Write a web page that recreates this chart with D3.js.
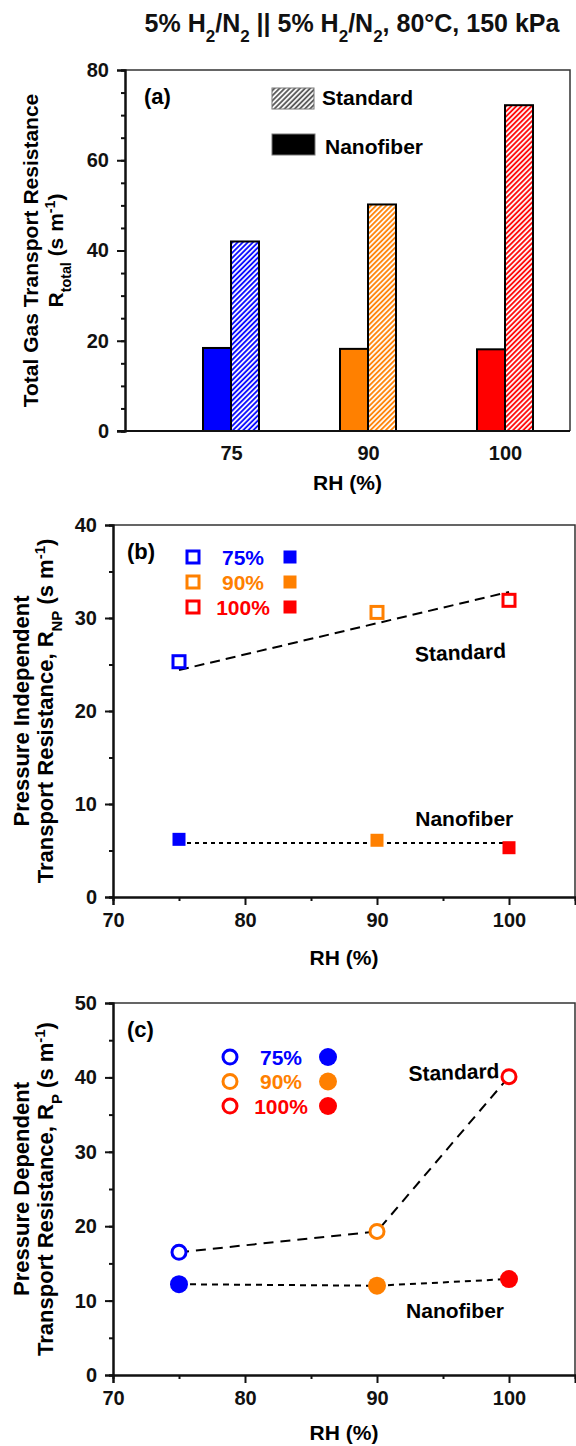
<!DOCTYPE html>
<html>
<head>
<meta charset="utf-8">
<script src="https://cdn.jsdelivr.net/npm/d3@7"></script>
<style>
  body { margin: 0; background: #fff; }
  svg { display: block; }
  text { font-family: "Liberation Sans", Arial, sans-serif; font-weight: bold; }
</style>
</head>
<body>
<script>
// données
const rhCats = ["75", "90", "100"];
const rhValues = [75, 90, 100];
const rhColors = ["#0000ff", "#ff8000", "#ff0000"];
const rhLegend = ["75%", "90%", "100%"];

// (a) résistance totale
const totalNanofiber = [18.4, 18.2, 18.1];
const totalStandard = [42.0, 50.2, 72.2];

// (b) résistance indépendante de la pression
const npStandard = [25.3, 30.6, 31.9];
const npNanofiber = [6.2, 6.1, 5.3];
const npStandardFit = [24.4, 32.8];   // droite, aux extrémités 75 et 100
const npNanofiberFit = [5.8, 5.8];
const fitRH = [75, 100];

// (c) résistance dépendante de la pression
const pStandard = [16.5, 19.3, 40.1];
const pNanofiber = [12.2, 12.0, 12.9];

const W = 576, H = 1446;
const svg = d3.select("body").append("svg").attr("width", W).attr("height", H);
const defs = svg.append("defs");

// motif hachuré
function hatch(id, color) {
  const p = defs.append("pattern")
    .attr("id", id)
    .attr("patternUnits", "userSpaceOnUse")
    .attr("width", 3.6).attr("height", 3.6)
    .attr("patternTransform", "rotate(45)");
  p.append("rect").attr("width", 3.6).attr("height", 3.6).attr("fill", "#fff");
  p.append("line").attr("x1", 1).attr("x2", 1).attr("y1", 0).attr("y2", 3.6)
    .attr("stroke", color).attr("stroke-width", 1.8);
}
rhColors.forEach((c, i) => hatch("hatch" + i, c));
hatch("hatchLegend", "#555");

// texte avec indices / exposants
function rich(sel, parts, size) {
  parts.forEach(p => {
    const ts = sel.append("tspan").text(p.t);
    if (p.sub) ts.attr("font-size", size * 0.68).attr("baseline-shift", "sub");
    if (p.sup) ts.attr("font-size", size * 0.68).attr("baseline-shift", "super");
  });
}

function yTitle(lines, cy, size) {
  lines.forEach(l => {
    const t = svg.append("text")
      .attr("transform", `translate(${l.x},${cy}) rotate(-90)`)
      .attr("text-anchor", "middle")
      .attr("font-size", size);
    rich(t, l.parts, size);
  });
}

function styleAxis(g) {
  g.select(".domain").attr("stroke", "#111").attr("stroke-width", 2);
  g.selectAll(".tick line").attr("stroke", "#111").attr("stroke-width", 2);
  g.selectAll(".tick text").attr("fill", "#111").attr("font-size", 20)
    .attr("font-family", "Liberation Sans, Arial, sans-serif").attr("font-weight", "bold");
}

function frame(x0, x1, y0, y1) {
  svg.append("path")
    .attr("d", `M${x0},${y0}H${x1}V${y1}`)
    .attr("fill", "none").attr("stroke", "#333").attr("stroke-width", 1.5);
}

function yAxes(y, left, major, minor) {
  svg.append("g").attr("transform", `translate(${left},0)`)
    .call(d3.axisLeft(y).tickValues(minor).tickSize(4).tickFormat(""))
    .call(styleAxis);
  svg.append("g").attr("transform", `translate(${left},0)`)
    .call(d3.axisLeft(y).tickValues(major).tickSize(8).tickPadding(8))
    .call(styleAxis);
}

// titre
const title = svg.append("text").attr("x", 352).attr("y", 32)
  .attr("text-anchor", "middle").attr("font-size", 25).attr("fill", "#111");
rich(title, [
  { t: "5% H" }, { t: "2", sub: true }, { t: "/N" }, { t: "2", sub: true },
  { t: " || 5% H" }, { t: "2", sub: true }, { t: "/N" }, { t: "2", sub: true },
  { t: ", 80°C, 150 kPa" }
], 25);

// ---------- (a) ----------
{
  const left = 125, right = 570, top = 70, bottom = 431;
  const y = d3.scaleLinear().domain([0, 80]).range([bottom, top]);
  const x = d3.scalePoint().domain(rhCats).range([left + 106, right - 65]);
  const bw = 28;

  frame(left, right, top, bottom);

  const groups = svg.append("g").selectAll("g").data(rhCats).join("g");
  groups.append("rect")
    .attr("x", d => x(d) - bw).attr("width", bw)
    .attr("y", (d, i) => y(totalNanofiber[i])).attr("height", (d, i) => y(0) - y(totalNanofiber[i]))
    .attr("fill", (d, i) => rhColors[i]).attr("stroke", "#000").attr("stroke-width", 2);
  groups.append("rect")
    .attr("x", d => x(d)).attr("width", bw)
    .attr("y", (d, i) => y(totalStandard[i])).attr("height", (d, i) => y(0) - y(totalStandard[i]))
    .attr("fill", (d, i) => `url(#hatch${i})`).attr("stroke", "#000").attr("stroke-width", 2);

  yAxes(y, left, d3.range(0, 81, 20), d3.range(0, 81, 5));
  svg.append("g").attr("transform", `translate(0,${bottom})`)
    .call(d3.axisBottom(x).tickSize(0).tickPadding(15))
    .call(styleAxis)
    .call(g => g.select(".domain").attr("d", `M${left - 8},0H${right}`));

  svg.append("text").attr("x", 144).attr("y", 104).attr("font-size", 22).text("(a)");

  // légende
  svg.append("rect").attr("x", 272).attr("y", 88).attr("width", 42).attr("height", 21)
    .attr("fill", "url(#hatchLegend)").attr("stroke", "#777").attr("stroke-width", 1);
  svg.append("text").attr("x", 322).attr("y", 105).attr("font-size", 21).text("Standard");
  svg.append("rect").attr("x", 272).attr("y", 134).attr("width", 43).attr("height", 21)
    .attr("fill", "#000").attr("stroke", "#777").attr("stroke-width", 1);
  svg.append("text").attr("x", 325).attr("y", 154).attr("font-size", 21).text("Nanofiber");

  svg.append("text").attr("x", (left + right) / 2).attr("y", 490)
    .attr("text-anchor", "middle").attr("font-size", 21).text("RH (%)");

  yTitle([
    { x: 38, parts: [{ t: "Total Gas Transport Resistance" }] },
    { x: 63, parts: [{ t: "R" }, { t: "total", sub: true }, { t: " (s m" }, { t: "-1", sup: true }, { t: ")" }] }
  ], (top + bottom) / 2, 21);
}

// ---------- (b) et (c) : axes RH ----------
function rhPanel(top, bottom, yMax, label) {
  const left = 113, right = 575;
  const x = d3.scaleLinear().domain([70, 105]).range([left, right]);
  const y = d3.scaleLinear().domain([0, yMax]).range([bottom, top]);
  frame(left, right, top, bottom);
  yAxes(y, left, d3.range(0, yMax + 1, 10), d3.range(0, yMax + 1, 5));
  svg.append("g").attr("transform", `translate(0,${bottom})`)
    .call(d3.axisBottom(x).tickValues([75, 85, 95]).tickSize(4).tickFormat(""))
    .call(styleAxis);
  svg.append("g").attr("transform", `translate(0,${bottom})`)
    .call(d3.axisBottom(x).tickValues([70, 80, 90, 100]).tickSize(8).tickPadding(8))
    .call(styleAxis);
  svg.append("text").attr("x", 127).attr("y", top + 34).attr("font-size", 22).text(label);
  return { x, y, left, right, top, bottom };
}

// ---------- (b) ----------
{
  const p = rhPanel(525, 897, 40, "(b)");
  const { x, y } = p;
  const line = d3.line().x(d => x(d[0])).y(d => y(d[1]));

  svg.append("path").attr("d", line(fitRH.map((r, i) => [r, npStandardFit[i]])))
    .attr("fill", "none").attr("stroke", "#000").attr("stroke-width", 2).attr("stroke-dasharray", "10,6");
  svg.append("path").attr("d", line(fitRH.map((r, i) => [r, npNanofiberFit[i]])))
    .attr("fill", "none").attr("stroke", "#000").attr("stroke-width", 2).attr("stroke-dasharray", "4,4");

  svg.append("g").selectAll("rect").data(rhValues).join("rect")
    .attr("x", (d, i) => x(d) - 6).attr("y", (d, i) => y(npStandard[i]) - 6)
    .attr("width", 12).attr("height", 12)
    .attr("fill", "#fff").attr("stroke", (d, i) => rhColors[i]).attr("stroke-width", 3);
  svg.append("g").selectAll("rect").data(rhValues).join("rect")
    .attr("x", (d, i) => x(d) - 6.5).attr("y", (d, i) => y(npNanofiber[i]) - 6.5)
    .attr("width", 13).attr("height", 13)
    .attr("fill", (d, i) => rhColors[i]);

  // légende
  rhLegend.forEach((t, i) => {
    const cy = p.top + 32 + i * 25;
    svg.append("rect").attr("x", p.left + 80 - 6).attr("y", cy - 6).attr("width", 12).attr("height", 12)
      .attr("fill", "#fff").attr("stroke", rhColors[i]).attr("stroke-width", 3);
    svg.append("text").attr("x", p.left + 130).attr("y", cy + 7.5).attr("text-anchor", "middle")
      .attr("font-size", 21).attr("fill", rhColors[i]).text(t);
    svg.append("rect").attr("x", p.left + 177 - 6.5).attr("y", cy - 6.5).attr("width", 13).attr("height", 13)
      .attr("fill", rhColors[i]);
  });

  svg.append("text").attr("transform", `translate(${x(92.9)},${y(25.3)}) rotate(-2.5)`)
    .attr("font-size", 21).text("Standard");
  svg.append("text").attr("x", x(92.9)).attr("y", y(7.6)).attr("font-size", 21).text("Nanofiber");

  svg.append("text").attr("x", (p.left + p.right) / 2).attr("y", 965)
    .attr("text-anchor", "middle").attr("font-size", 21).text("RH (%)");

  yTitle([
    { x: 29, parts: [{ t: "Pressure Independent" }] },
    { x: 53, parts: [{ t: "Transport Resistance, R" }, { t: "NP", sub: true }, { t: " (s m" }, { t: "-1", sup: true }, { t: ")" }] }
  ], (p.top + p.bottom) / 2, 22);
}

// ---------- (c) ----------
{
  const p = rhPanel(1003, 1375, 50, "(c)");
  const { x, y } = p;
  const line = d3.line().x(d => x(d[0])).y(d => y(d[1]));

  svg.append("path").attr("d", line(rhValues.map((r, i) => [r, pStandard[i]])))
    .attr("fill", "none").attr("stroke", "#000").attr("stroke-width", 2).attr("stroke-dasharray", "10,7");
  svg.append("path").attr("d", line(rhValues.map((r, i) => [r, pNanofiber[i]])))
    .attr("fill", "none").attr("stroke", "#000").attr("stroke-width", 2).attr("stroke-dasharray", "6,5");

  svg.append("g").selectAll("circle").data(rhValues).join("circle")
    .attr("cx", d => x(d)).attr("cy", (d, i) => y(pStandard[i])).attr("r", 7)
    .attr("fill", "#fff").attr("stroke", (d, i) => rhColors[i]).attr("stroke-width", 3);
  svg.append("g").selectAll("circle").data(rhValues).join("circle")
    .attr("cx", d => x(d)).attr("cy", (d, i) => y(pNanofiber[i])).attr("r", 9)
    .attr("fill", (d, i) => rhColors[i]);

  rhLegend.forEach((t, i) => {
    const cy = p.top + 54 + i * 24.5;
    svg.append("circle").attr("cx", p.left + 117).attr("cy", cy).attr("r", 7)
      .attr("fill", "#fff").attr("stroke", rhColors[i]).attr("stroke-width", 3);
    svg.append("text").attr("x", p.left + 168).attr("y", cy + 7.5).attr("text-anchor", "middle")
      .attr("font-size", 21).attr("fill", rhColors[i]).text(t);
    svg.append("circle").attr("cx", p.left + 215).attr("cy", cy).attr("r", 9)
      .attr("fill", rhColors[i]);
  });

  svg.append("text").attr("transform", `translate(${x(92.4)},${y(39.5)}) rotate(-2)`)
    .attr("font-size", 21).text("Standard");
  svg.append("text").attr("x", x(92.2)).attr("y", y(7.7)).attr("font-size", 21).text("Nanofiber");

  svg.append("text").attr("x", (p.left + p.right) / 2).attr("y", 1440)
    .attr("text-anchor", "middle").attr("font-size", 21).text("RH (%)");

  yTitle([
    { x: 29, parts: [{ t: "Pressure Dependent" }] },
    { x: 53, parts: [{ t: "Transport Resistance, R" }, { t: "P", sub: true }, { t: " (s m" }, { t: "-1", sup: true }, { t: ")" }] }
  ], (p.top + p.bottom) / 2, 22);
}
</script>
</body>
</html>
